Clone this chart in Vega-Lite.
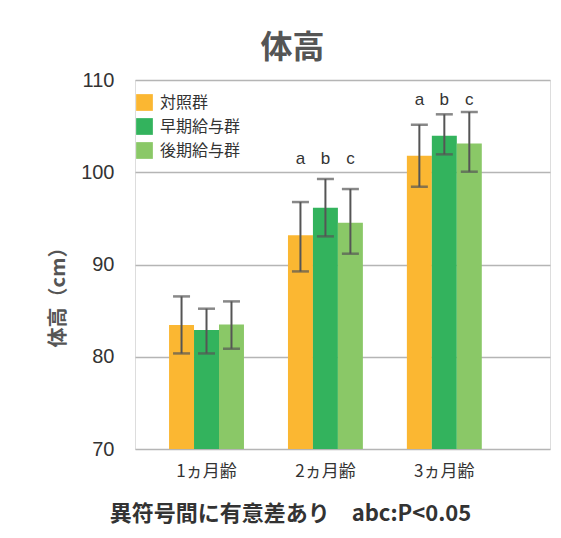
{
  "$schema": "https://vega.github.io/schema/vega-lite/v6.json",
  "autosize": "none",
  "width": 415,
  "height": 369,
  "padding": {"left": 135, "top": 80, "right": 11, "bottom": 89},
  "background": "white",
  "title": {
    "text": "体高",
    "fontSize": 32,
    "fontWeight": "bold",
    "color": "#555555",
    "font": "Noto Sans CJK JP",
    "anchor": "middle",
    "dx": -50,
    "offset": 5
  },
  "data": {
    "values": [
      {"age": "1ヵ月齢", "group": "対照群", "mean": 83.45, "lower": 80.36, "upper": 86.54},
      {"age": "1ヵ月齢", "group": "早期給与群", "mean": 82.9, "lower": 80.36, "upper": 85.21},
      {"age": "1ヵ月齢", "group": "後期給与群", "mean": 83.5, "lower": 80.87, "upper": 86.0},
      {"age": "2ヵ月齢", "group": "対照群", "mean": 93.16, "lower": 89.25, "upper": 96.77, "sig": "a", "sig_y": 101.47},
      {"age": "2ヵ月齢", "group": "早期給与群", "mean": 96.16, "lower": 93.05, "upper": 99.27, "sig": "b", "sig_y": 101.47},
      {"age": "2ヵ月齢", "group": "後期給与群", "mean": 94.53, "lower": 91.17, "upper": 98.18, "sig": "c", "sig_y": 101.47},
      {"age": "3ヵ月齢", "group": "対照群", "mean": 101.79, "lower": 98.43, "upper": 105.15, "sig": "a", "sig_y": 107.87},
      {"age": "3ヵ月齢", "group": "早期給与群", "mean": 103.96, "lower": 101.94, "upper": 106.28, "sig": "b", "sig_y": 107.87},
      {"age": "3ヵ月齢", "group": "後期給与群", "mean": 103.13, "lower": 100.06, "upper": 106.53, "sig": "c", "sig_y": 107.87}
    ]
  },
  "encoding": {
    "x": {
      "field": "age",
      "type": "nominal",
      "sort": ["1ヵ月齢", "2ヵ月齢", "3ヵ月齢"],
      "scale": {"paddingInner": 0.37, "paddingOuter": 0.43, "align": 0.333},
      "axis": {
        "title": "異符号間に有意差あり　abc:P<0.05",
        "titleFontSize": 22,
        "titleFontWeight": "bold",
        "titleColor": "#333333",
        "titleFont": "Noto Sans CJK JP",
        "titleX": 155,
        "titleY": 64,
        "titleAlign": "center",
        "titleBaseline": "middle",
        "labelAngle": 0,
        "labelFontSize": 17,
        "labelColor": "#333333",
        "labelFont": "Noto Sans CJK JP",
        "labelPadding": 14,
        "ticks": false,
        "tickSize": 0,
        "domain": false,
        "grid": false
      }
    },
    "xOffset": {
      "field": "group",
      "type": "nominal",
      "sort": ["対照群", "早期給与群", "後期給与群"],
      "scale": {"paddingInner": 0, "paddingOuter": 0}
    }
  },
  "layer": [
    {
      "mark": {"type": "bar"},
      "encoding": {
        "y": {
          "field": "mean",
          "type": "quantitative",
          "scale": {"domain": [70, 110], "zero": false, "nice": false},
          "axis": {
            "values": [70, 80, 90, 100, 110],
            "title": "体高（cm）",
            "titleFontSize": 20,
            "titleFontWeight": "bold",
            "titleColor": "#555555",
            "titleFont": "Noto Sans CJK JP",
            "titleAngle": -90,
            "titleX": -77,
            "titleY": 212,
            "titleAlign": "center",
            "titleBaseline": "middle",
            "labelFontSize": 20,
            "labelColor": "#333333",
            "labelFont": "Liberation Sans",
            "labelPadding": 21,
            "ticks": false,
            "tickSize": 0,
            "domain": false,
            "grid": true,
            "gridColor": "#b5b5b5",
            "gridWidth": 1.3
          }
        },
        "y2": {"datum": 70},
        "color": {
          "field": "group",
          "type": "nominal",
          "sort": ["対照群", "早期給与群", "後期給与群"],
          "scale": {
            "domain": ["対照群", "早期給与群", "後期給与群"],
            "range": ["#FBB732", "#33B35D", "#8AC867"]
          },
          "legend": {
            "title": null,
            "orient": "none",
            "legendX": 1,
            "legendY": 14,
            "padding": 0,
            "symbolType": "square",
            "symbolSize": 280,
            "symbolStrokeWidth": 0,
            "symbolOpacity": 1,
            "labelFontSize": 16,
            "labelColor": "#333333",
            "labelFont": "Noto Sans CJK JP",
            "labelOffset": 7,
            "rowPadding": 7
          }
        }
      }
    },
    {
      "mark": {"type": "rule", "color": "#555555", "strokeWidth": 2},
      "encoding": {
        "y": {"field": "lower", "type": "quantitative"},
        "y2": {"field": "upper"}
      }
    },
    {
      "mark": {"type": "tick", "color": "#555555", "thickness": 2.5, "size": 17, "orient": "horizontal"},
      "encoding": {
        "y": {"field": "lower", "type": "quantitative"}
      }
    },
    {
      "mark": {"type": "tick", "color": "#555555", "thickness": 2.5, "size": 17, "orient": "horizontal"},
      "encoding": {
        "y": {"field": "upper", "type": "quantitative"}
      }
    },
    {
      "mark": {"type": "text", "fontSize": 17, "color": "#333333", "font": "Liberation Sans", "baseline": "middle"},
      "encoding": {
        "y": {"field": "sig_y", "type": "quantitative"},
        "text": {"field": "sig"}
      }
    }
  ]
}
